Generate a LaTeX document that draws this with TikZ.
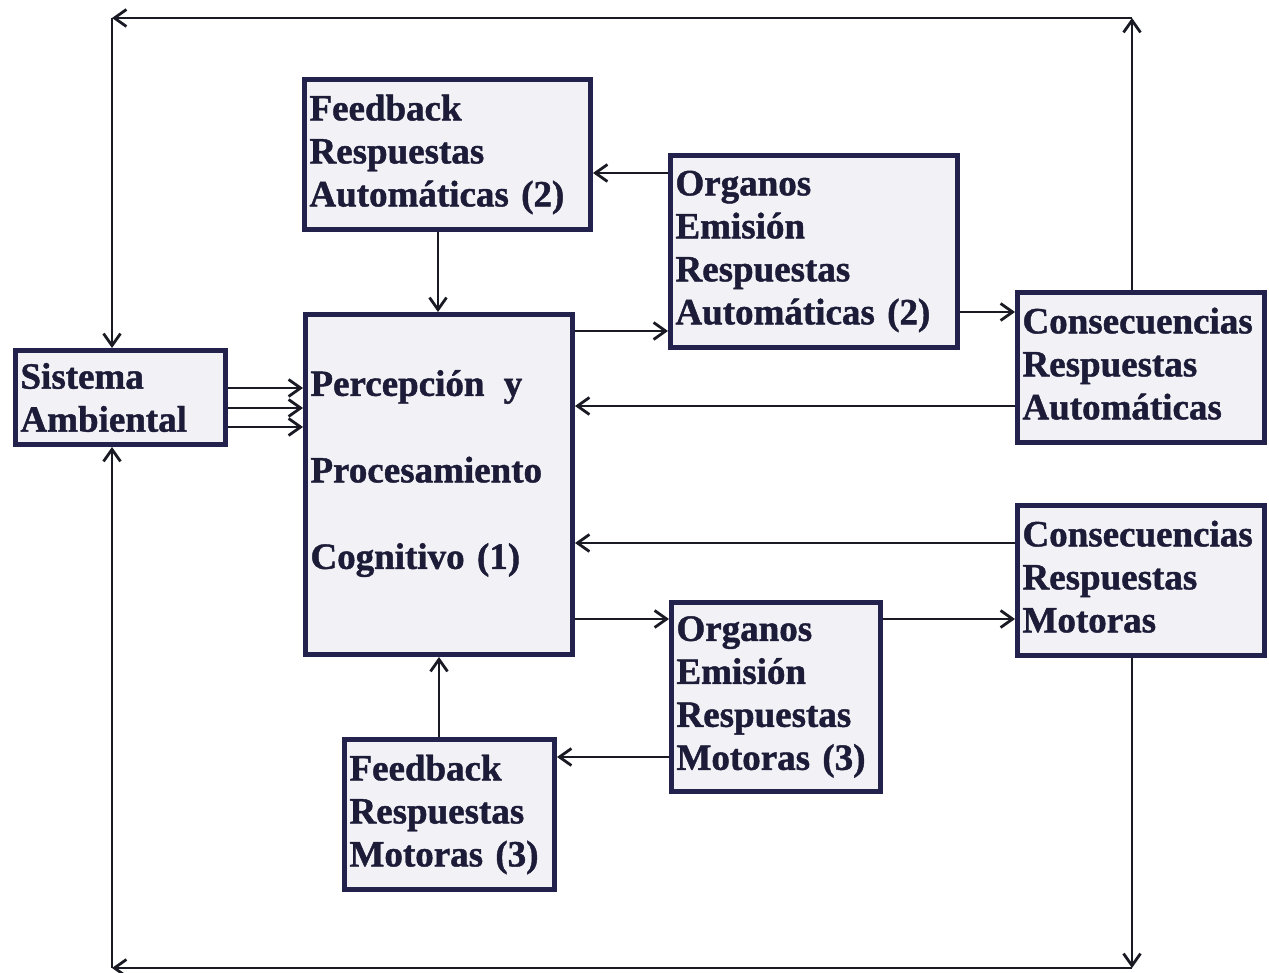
\documentclass[tikz,border=0pt]{standalone}
\usepackage{fontspec}
\setmainfont{Liberation Serif}[BoldFeatures={FakeBold=1.2}]
\usetikzlibrary{arrows.meta}
\definecolor{navy}{HTML}{22224C}
\definecolor{boxfill}{HTML}{F2F2F6}
\definecolor{ink}{HTML}{1C1C38}
\definecolor{wirec}{HTML}{1A1A24}
\begin{document}
\begin{tikzpicture}[x=1pt,y=-1pt,
  box/.style={draw=navy, line width=5pt, fill=boxfill, text=ink,
    font=\fontsize{37}{43}\selectfont\bfseries, align=left,
    inner xsep=5pt, inner ysep=0pt},
  arr/.style={draw=wirec, line width=2.8pt, -{Straight Barb[length=12pt,width=17pt]}}]
\useasboundingbox (0,0) rectangle (1269,973);
\fill[white] (0,0) rectangle (1269,973);

\node[box, minimum width=210pt, minimum height=94pt, text width=200pt] (sis) at (120.5,397.5) {Sistema\\Ambiental};
\node[box, minimum width=267pt, minimum height=340pt, text width=257pt] (per) at (439,484.5) {Percepción\hspace{7pt} y\\[43.5pt]Procesamiento\\[43.5pt]Cognitivo (1)\rule[-30pt]{0pt}{0pt}};
\node[box, minimum width=286pt, minimum height=150pt, text width=276pt] (fba) at (447.5,154.5) {Feedback\\Respuestas\\Automáticas (2)};
\node[box, minimum width=287pt, minimum height=192pt, text width=277pt] (oaa) at (814,251.5) {Organos\\Emisión\\Respuestas\\Automáticas (2)};
\node[box, minimum width=247pt, minimum height=150pt, text width=237pt] (caa) at (1141,367.5) {Consecuencias\\Respuestas\\Automáticas\rule[-8pt]{0pt}{0pt}};
\node[box, minimum width=247pt, minimum height=150pt, text width=237pt] (cam) at (1141,580.5) {Consecuencias\\Respuestas\\Motoras\rule[-8pt]{0pt}{0pt}};
\node[box, minimum width=209pt, minimum height=189pt, text width=199pt] (oam) at (776,697) {Organos\\Emisión\\Respuestas\\Motoras (3)};
\node[box, minimum width=210pt, minimum height=150pt, text width=200pt] (fbm) at (449.5,814.5) {Feedback\\Respuestas\\Motoras (3)};

\coordinate (tl) at (112,18);
\coordinate (tr) at (1132,18);
\coordinate (bl) at (112,968);
\coordinate (br) at (1132,968);

\draw[arr] (sis.east |- 0,388) -- (per.west |- 0,388);
\draw[arr] (sis.east |- 0,408) -- (per.west |- 0,408);
\draw[arr] (sis.east |- 0,427) -- (per.west |- 0,427);
\draw[arr] (oaa.west |- 0,173) -- (fba.east |- 0,173);
\draw[arr] (fba.south -| 438,0) -- (per.north -| 438,0);
\draw[arr] (per.east |- 0,331) -- (oaa.west |- 0,331);
\draw[arr] (oaa.east |- 0,312) -- (caa.west |- 0,312);
\draw[arr] (caa.west |- 0,406) -- (per.east |- 0,406);
\draw[arr] (cam.west |- 0,543) -- (per.east |- 0,543);
\draw[arr] (per.east |- 0,619) -- (oam.west |- 0,619);
\draw[arr] (oam.east |- 0,619) -- (cam.west |- 0,619);
\draw[arr] (oam.west |- 0,757) -- (fbm.east |- 0,757);
\draw[arr] (fbm.north -| 439,0) -- (per.south -| 439,0);

\draw[arr] (caa.north -| tr) -- (tr);
\draw[arr] (tr) -- (tl);
\draw[arr] (tl) -- (sis.north -| tl);
\draw[arr] (cam.south -| br) -- (br);
\draw[arr] (br) -- (bl);
\draw[arr] (bl) -- (sis.south -| bl);
\end{tikzpicture}
\end{document}
